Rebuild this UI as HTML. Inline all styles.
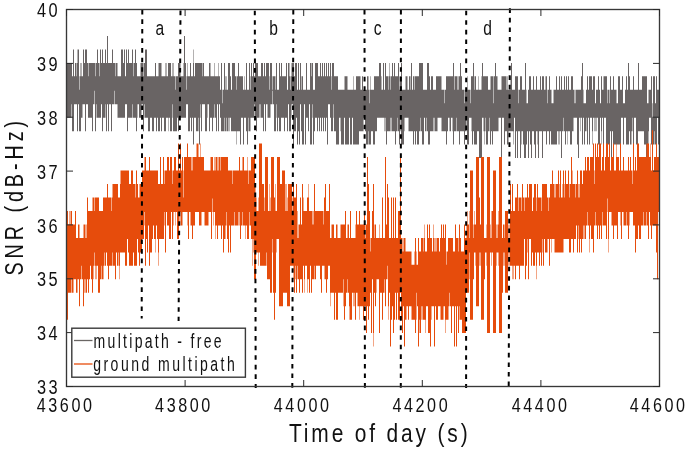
<!DOCTYPE html>
<html><head><meta charset="utf-8"><style>html,body{margin:0;padding:0;background:#fff;overflow:hidden}svg{display:block;will-change:transform}</style></head>
<body><svg width="685" height="455" viewBox="0 0 685 455">
<rect width="685" height="455" fill="#fff"/>
<path d="M66 62.9H71.5V117.7H66ZM71.5 62.9H72V104.2H71.5ZM72 76.3H73V131.2H72ZM73 49.4H74V131.2H73ZM74 76.3H75V104.2H74ZM75 62.9H76.5V104.2H75ZM76.5 76.3H77V104.2H76.5ZM77 49.4H77.5V131.2H77ZM77.5 62.9H78V131.2H77.5ZM78 49.4H79V104.2H78ZM79 76.3H79.5V131.2H79ZM79.5 89.8H80V131.2H79.5ZM80 76.3H80.5V131.2H80ZM80.5 62.9H81V131.2H80.5ZM81 62.9H81.5V117.7H81ZM81.5 76.3H82.5V117.7H81.5ZM82.5 76.3H83V104.2H82.5ZM83 49.4H84V104.2H83ZM84 62.9H85V104.2H84ZM85 49.4H86V131.2H85ZM86 49.4H87V104.2H86ZM87 62.9H88V104.2H87ZM88 76.3H88.5V117.7H88ZM88.5 62.9H92V117.7H88.5ZM92 62.9H93V131.2H92ZM93 62.9H94.5V104.2H93ZM94.5 62.9H95V90.8H94.5ZM95 62.9H95.5V131.2H95ZM95.5 76.3H96V131.2H95.5ZM96 62.9H96.5V104.2H96ZM96.5 62.9H97V117.7H96.5ZM97 49.4H98V117.7H97ZM98 62.9H99.5V117.7H98ZM99.5 76.3H100V117.7H99.5ZM100 49.4H101V117.7H100ZM101 62.9H102V104.2H101ZM102 49.4H103V131.2H102ZM103 62.9H105V117.7H103ZM105 49.4H105.5V117.7H105ZM105.5 49.4H106V104.2H105.5ZM106 62.9H107V131.2H106ZM107 35.9H108V104.2H107ZM108 62.9H109V131.2H108ZM109 62.9H111V104.2H109ZM111 62.9H112V131.2H111ZM112 49.4H113V104.2H112ZM113 62.9H114V104.2H113ZM114 62.9H114.5V90.8H114ZM114.5 62.9H115V104.2H114.5ZM115 76.3H115.5V104.2H115ZM115.5 62.9H117V104.2H115.5ZM117 62.9H117.5V117.7H117ZM117.5 76.3H118V104.2H117.5ZM118 76.3H121V117.7H118ZM121 49.4H123V117.7H121ZM123 62.9H124V117.7H123ZM124 49.4H125V117.7H124ZM125 76.3H126V104.2H125ZM126 49.4H127V104.2H126ZM127 62.9H128V131.2H127ZM128 49.4H129V117.7H128ZM129 62.9H132V117.7H129ZM132 49.4H132.5V104.2H132ZM132.5 49.4H133V117.7H132.5ZM133 76.3H133.5V117.7H133ZM133.5 62.9H135V117.7H133.5ZM135 49.4H136V117.7H135ZM136 62.9H137V131.2H136ZM137 76.3H137.5V117.7H137ZM137.5 76.3H139V104.2H137.5ZM139 76.3H140.5V117.7H139ZM140.5 62.9H141.5V117.7H140.5ZM141.5 62.9H143V104.2H141.5ZM143 76.3H143.5V131.2H143ZM143.5 62.9H144V131.2H143.5ZM144 62.9H144.5V104.2H144ZM144.5 62.9H145V117.7H144.5ZM145 49.4H147V117.7H145ZM147 76.3H148V117.7H147ZM148 76.3H150V131.2H148ZM150 76.3H152V117.7H150ZM152 76.3H154V131.2H152ZM154 76.3H155V117.7H154ZM155 62.9H156V117.7H155ZM156 76.3H157V131.2H156ZM157 76.3H158V117.7H157ZM158 76.3H158.5V131.2H158ZM158.5 62.9H160V131.2H158.5ZM160 62.9H161V117.7H160ZM161 62.9H161.5V131.2H161ZM161.5 76.3H162V131.2H161.5ZM162 76.3H164V117.7H162ZM164 76.3H165.5V131.2H164ZM165.5 62.9H166V131.2H165.5ZM166 62.9H166.5V117.7H166ZM166.5 76.3H168V117.7H166.5ZM168 62.9H168.5V131.2H168ZM168.5 62.9H170V117.7H168.5ZM170 62.9H171V131.2H170ZM171 76.3H172V131.2H171ZM172 76.3H172.5V104.2H172ZM172.5 62.9H173V117.7H172.5ZM173 62.9H173.5V131.2H173ZM173.5 76.3H175V131.2H173.5ZM175 89.8H175.5V131.2H175ZM175.5 76.3H177V131.2H175.5ZM177 76.3H178V117.7H177ZM178 62.9H179V131.2H178ZM179 62.9H180.5V117.7H179ZM180.5 76.3H183.5V117.7H180.5ZM183.5 62.9H184V117.7H183.5ZM184 35.9H185V117.7H184ZM185 62.9H186V117.7H185ZM186 89.8H186.5V104.2H186ZM186.5 76.3H187V104.2H186.5ZM187 62.9H187.5V104.2H187ZM187.5 76.3H188V104.2H187.5ZM188 76.3H190V131.2H188ZM190 62.9H191V117.7H190ZM191 76.3H192V131.2H191ZM192 76.3H193V117.7H192ZM193 62.9H193.5V144.6H193ZM193.5 49.4H194V144.6H193.5ZM194 76.3H195V117.7H194ZM195 62.9H196V117.7H195ZM196 62.9H198V131.2H196ZM198 62.9H198.5V117.7H198ZM198.5 62.9H199V131.2H198.5ZM199 62.9H200V144.6H199ZM200 62.9H200.5V117.7H200ZM200.5 62.9H201V104.2H200.5ZM201 62.9H202V131.2H201ZM202 76.3H202.5V104.2H202ZM202.5 62.9H204V104.2H202.5ZM204 76.3H205V104.2H204ZM205 76.3H207V131.2H205ZM207 76.3H207.5V117.7H207ZM207.5 76.3H209V104.2H207.5ZM209 62.9H210V131.2H209ZM210 62.9H210.5V117.7H210ZM210.5 76.3H212V117.7H210.5ZM212 76.3H213V131.2H212ZM213 76.3H214V117.7H213ZM214 62.9H214.5V117.7H214ZM214.5 76.3H215V104.2H214.5ZM215 76.3H216V117.7H215ZM216 76.3H217V131.2H216ZM217 76.3H218V104.2H217ZM218 76.3H218.5V131.2H218ZM218.5 62.9H219V131.2H218.5ZM219 76.3H220V104.2H219ZM220 89.8H221V117.7H220ZM221 62.9H222V131.2H221ZM222 103.2H222.5V131.2H222ZM222.5 89.8H224V131.2H222.5ZM224 62.9H224.5V131.2H224ZM224.5 62.9H225V117.7H224.5ZM225 89.8H225.5V131.2H225ZM225.5 76.3H226V131.2H225.5ZM226 76.3H226.5V117.7H226ZM226.5 89.8H228V131.2H226.5ZM228 62.9H228.5V131.2H228ZM228.5 62.9H229.5V117.7H228.5ZM229.5 62.9H230V131.2H229.5ZM230 76.3H231V117.7H230ZM231 89.8H232V131.2H231ZM232 62.9H235V131.2H232ZM235 76.3H236V131.2H235ZM236 89.8H236.5V131.2H236ZM236.5 76.3H237V144.6H236.5ZM237 76.3H238V131.2H237ZM238 62.9H239V131.2H238ZM239 76.3H240V131.2H239ZM240 76.3H241V144.6H240ZM241 76.3H243V117.7H241ZM243 89.8H244V144.6H243ZM244 89.8H244.5V117.7H244ZM244.5 76.3H245V117.7H244.5ZM245 89.8H246V117.7H245ZM246 62.9H247V131.2H246ZM247 89.8H248V144.6H247ZM248 89.8H248.5V131.2H248ZM248.5 89.8H249V117.7H248.5ZM249 62.9H250V131.2H249ZM250 89.8H250.5V131.2H250ZM250.5 76.3H251V117.7H250.5ZM251 62.9H252V117.7H251ZM252 76.3H253V117.7H252ZM253 62.9H254V117.7H253ZM254 76.3H254.5V117.7H254ZM254.5 76.3H255V104.2H254.5ZM255 62.9H256V117.7H255ZM256 62.9H257V131.2H256ZM257 62.9H258V117.7H257ZM258 76.3H259.5V117.7H258ZM259.5 76.3H260V104.2H259.5ZM260 76.3H260.5V117.7H260ZM260.5 76.3H261V104.2H260.5ZM261 62.9H263V117.7H261ZM263 76.3H264V131.2H263ZM264 62.9H265V104.2H264ZM265 76.3H266V131.2H265ZM266 62.9H267.5V104.2H266ZM267.5 62.9H269V117.7H267.5ZM269 76.3H269.5V117.7H269ZM269.5 89.8H270V117.7H269.5ZM270 62.9H270.5V117.7H270ZM270.5 62.9H272V104.2H270.5ZM272 89.8H272.5V104.2H272ZM272.5 76.3H273V90.8H272.5ZM273 76.3H274V104.2H273ZM274 76.3H275.5V131.2H274ZM275.5 89.8H276V131.2H275.5ZM276 62.9H276.5V117.7H276ZM276.5 62.9H277V104.2H276.5ZM277 89.8H278V131.2H277ZM278 89.8H279V117.7H278ZM279 62.9H280V131.2H279ZM280 76.3H281V131.2H280ZM281 62.9H282V117.7H281ZM282 76.3H284V117.7H282ZM284 76.3H285V131.2H284ZM285 76.3H286V117.7H285ZM286 62.9H287V117.7H286ZM287 89.8H288V131.2H287ZM288 62.9H289V104.2H288ZM289 62.9H289.5V131.2H289ZM289.5 76.3H290.5V131.2H289.5ZM290.5 89.8H291V131.2H290.5ZM291 76.3H291.5V104.2H291ZM291.5 62.9H292V117.7H291.5ZM292 62.9H293V104.2H292ZM293 62.9H294V144.6H293ZM294 76.3H295V131.2H294ZM295 62.9H296V131.2H295ZM296 62.9H297V117.7H296ZM297 89.8H298V144.6H297ZM298 62.9H299V131.2H298ZM299 89.8H300V144.6H299ZM300 62.9H301V104.2H300ZM301 76.3H301.5V131.2H301ZM301.5 89.8H302V131.2H301.5ZM302 76.3H303V144.6H302ZM303 89.8H304V144.6H303ZM304 89.8H305V104.2H304ZM305 89.8H306V144.6H305ZM306 62.9H307V117.7H306ZM307 89.8H308V117.7H307ZM308 89.8H309V131.2H308ZM309 89.8H310V104.2H309ZM310 62.9H311.5V144.6H310ZM311.5 76.3H312V144.6H311.5ZM312 62.9H312.5V104.2H312ZM312.5 62.9H313V117.7H312.5ZM313 89.8H314V144.6H313ZM314 89.8H315V131.2H314ZM315 62.9H317V117.7H315ZM317 62.9H318V131.2H317ZM318 76.3H319V117.7H318ZM319 76.3H320V131.2H319ZM320 62.9H321V117.7H320ZM321 76.3H322V131.2H321ZM322 62.9H323V117.7H322ZM323 76.3H324V131.2H323ZM324 62.9H325V117.7H324ZM325 76.3H326V131.2H325ZM326 62.9H327V117.7H326ZM327 76.3H328V144.6H327ZM328 62.9H329V104.2H328ZM329 76.3H330V104.2H329ZM330 62.9H331V117.7H330ZM331 89.8H331.5V131.2H331ZM331.5 76.3H332V131.2H331.5ZM332 62.9H333V131.2H332ZM333 62.9H333.5V104.2H333ZM333.5 62.9H334V117.7H333.5ZM334 76.3H336V131.2H334ZM336 76.3H338V144.6H336ZM338 89.8H339V144.6H338ZM339 89.8H340.5V117.7H339ZM340.5 89.8H341V131.2H340.5ZM341 89.8H344V144.6H341ZM344 89.8H344.5V117.7H344ZM344.5 76.3H345V117.7H344.5ZM345 76.3H347.5V144.6H345ZM347.5 89.8H349V144.6H347.5ZM349 89.8H350V117.7H349ZM350 89.8H352V144.6H350ZM352 89.8H353V117.7H352ZM353 89.8H353.5V144.6H353ZM353.5 76.3H354V144.6H353.5ZM354 89.8H356V144.6H354ZM356 76.3H359V144.6H356ZM359 76.3H360.5V131.2H359ZM360.5 89.8H362V131.2H360.5ZM362 76.3H363V131.2H362ZM363 89.8H363.5V131.2H363ZM363.5 89.8H365V117.7H363.5ZM365 89.8H366V131.2H365ZM366 89.8H367V144.6H366ZM367 76.3H368.5V144.6H367ZM368.5 89.8H369V131.2H368.5ZM369 103.2H369.5V144.6H369ZM369.5 89.8H370V144.6H369.5ZM370 76.3H370.5V144.6H370ZM370.5 89.8H371V144.6H370.5ZM371 89.8H373V131.2H371ZM373 89.8H374V144.6H373ZM374 76.3H375V144.6H374ZM375 76.3H377V131.2H375ZM377 76.3H379V117.7H377ZM379 62.9H381V117.7H379ZM381 76.3H381.5V117.7H381ZM381.5 89.8H383V117.7H381.5ZM383 62.9H384V117.7H383ZM384 89.8H384.5V117.7H384ZM384.5 89.8H385V131.2H384.5ZM385 62.9H385.5V117.7H385ZM385.5 62.9H386V131.2H385.5ZM386 76.3H387V144.6H386ZM387 76.3H388.5V131.2H387ZM388.5 89.8H389V131.2H388.5ZM389 76.3H389.5V131.2H389ZM389.5 62.9H390V131.2H389.5ZM390 89.8H390.5V131.2H390ZM390.5 76.3H391.5V117.7H390.5ZM391.5 76.3H392V131.2H391.5ZM392 62.9H393V131.2H392ZM393 76.3H394V131.2H393ZM394 62.9H395V131.2H394ZM395 76.3H396V144.6H395ZM396 76.3H397.5V131.2H396ZM397.5 76.3H398V117.7H397.5ZM398 62.9H399V131.2H398ZM399 76.3H399.5V144.6H399ZM399.5 89.8H400V144.6H399.5ZM400 76.3H400.5V117.7H400ZM400.5 76.3H401V131.2H400.5ZM401 62.9H402V144.6H401ZM402 89.8H404V144.6H402ZM404 89.8H404.5V131.2H404ZM404.5 89.8H405.5V117.7H404.5ZM405.5 76.3H407.5V117.7H405.5ZM407.5 89.8H408.5V117.7H407.5ZM408.5 89.8H409V131.2H408.5ZM409 76.3H410.5V131.2H409ZM410.5 89.8H411V131.2H410.5ZM411 62.9H412V131.2H411ZM412 89.8H413V131.2H412ZM413 76.3H414V144.6H413ZM414 89.8H414.5V131.2H414ZM414.5 76.3H415V131.2H414.5ZM415 76.3H416V144.6H415ZM416 76.3H417V131.2H416ZM417 76.3H419V144.6H417ZM419 62.9H420V131.2H419ZM420 62.9H420.5V117.7H420ZM420.5 62.9H422V131.2H420.5ZM422 62.9H423V144.6H422ZM423 89.8H424V144.6H423ZM424 89.8H425V117.7H424ZM425 89.8H426.5V131.2H425ZM426.5 89.8H427V117.7H426.5ZM427 62.9H428V131.2H427ZM428 62.9H429V144.6H428ZM429 76.3H430V144.6H429ZM430 89.8H431V131.2H430ZM431 76.3H433V131.2H431ZM433 89.8H433.5V131.2H433ZM433.5 89.8H434.5V117.7H433.5ZM434.5 89.8H436V131.2H434.5ZM436 76.3H437.5V131.2H436ZM437.5 76.3H441V117.7H437.5ZM441 76.3H441.5V131.2H441ZM441.5 89.8H442V117.7H441.5ZM442 89.8H444.5V131.2H442ZM444.5 103.2H445V131.2H444.5ZM445 89.8H446V131.2H445ZM446 76.3H447V144.6H446ZM447 76.3H448V131.2H447ZM448 76.3H449.5V117.7H448ZM449.5 76.3H451V131.2H449.5ZM451 76.3H452.5V117.7H451ZM452.5 76.3H453V131.2H452.5ZM453 62.9H454V144.6H453ZM454 76.3H454.5V131.2H454ZM454.5 89.8H455V131.2H454.5ZM455 76.3H456V131.2H455ZM456 76.3H456.5V117.7H456ZM456.5 76.3H457.5V131.2H456.5ZM457.5 89.8H458.5V131.2H457.5ZM458.5 76.3H459V131.2H458.5ZM459 76.3H460V144.6H459ZM460 62.9H461V131.2H460ZM461 76.3H462V131.2H461ZM462 89.8H464V131.2H462ZM464 103.2H464.5V144.6H464ZM464.5 89.8H465V144.6H464.5ZM465 89.8H466.5V131.2H465ZM466.5 89.8H467V117.7H466.5ZM467 89.8H467.5V144.6H467ZM467.5 76.3H468V144.6H467.5ZM468 89.8H469V144.6H468ZM469 89.8H470.5V117.7H469ZM470.5 103.2H471V117.7H470.5ZM471 76.3H471.5V131.2H471ZM471.5 76.3H472V117.7H471.5ZM472 76.3H473V144.6H472ZM473 62.9H474V131.2H473ZM474 89.8H474.5V144.6H474ZM474.5 76.3H476V144.6H474.5ZM476 89.8H477V144.6H476ZM477 89.8H478.5V131.2H477ZM478.5 76.3H479V131.2H478.5ZM479 89.8H481.5V158.1H479ZM481.5 76.3H482V158.1H481.5ZM482 62.9H483V117.7H482ZM483 76.3H483.5V131.2H483ZM483.5 76.3H484V117.7H483.5ZM484 76.3H484.5V131.2H484ZM484.5 76.3H485V144.6H484.5ZM485 76.3H485.5V117.7H485ZM485.5 76.3H486V131.2H485.5ZM486 76.3H488V144.6H486ZM488 89.8H489.5V131.2H488ZM489.5 89.8H490V117.7H489.5ZM490 89.8H490.5V144.6H490ZM490.5 76.3H491V144.6H490.5ZM491 76.3H492V131.2H491ZM492 76.3H493V144.6H492ZM493 103.2H493.5V131.2H493ZM493.5 76.3H495V131.2H493.5ZM495 62.9H496V131.2H495ZM496 76.3H497.5V131.2H496ZM497.5 89.8H498.5V131.2H497.5ZM498.5 89.8H501V117.7H498.5ZM501 89.8H501.5V158.1H501ZM501.5 76.3H502V158.1H501.5ZM502 76.3H504V117.7H502ZM504 76.3H505V144.6H504ZM505 76.3H506V131.2H505ZM506 89.8H506.5V131.2H506ZM506.5 76.3H507V131.2H506.5ZM507 76.3H507.5V144.6H507ZM507.5 89.8H508V144.6H507.5ZM508 89.8H508.5V131.2H508ZM508.5 89.8H509V144.6H508.5ZM509 89.8H510V131.2H509ZM510 76.3H510.5V131.2H510ZM510.5 89.8H511V131.2H510.5ZM511 62.9H512V131.2H511ZM512 89.8H513.5V131.2H512ZM513.5 89.8H514V144.6H513.5ZM514 89.8H515V117.7H514ZM515 76.3H516V158.1H515ZM516 76.3H517V131.2H516ZM517 76.3H518V158.1H517ZM518 103.2H518.5V131.2H518ZM518.5 89.8H520V131.2H518.5ZM520 76.3H521V158.1H520ZM521 76.3H521.5V131.2H521ZM521.5 76.3H522V144.6H521.5ZM522 89.8H523V131.2H522ZM523 89.8H524V144.6H523ZM524 89.8H525V158.1H524ZM525 62.9H526V158.1H525ZM526 89.8H526.5V144.6H526ZM526.5 103.2H527V144.6H526.5ZM527 103.2H528V131.2H527ZM528 89.8H529V158.1H528ZM529 76.3H530V131.2H529ZM530 76.3H531V144.6H530ZM531 89.8H532V158.1H531ZM532 89.8H533V131.2H532ZM533 76.3H534V131.2H533ZM534 89.8H535V144.6H534ZM535 89.8H536V158.1H535ZM536 76.3H537V131.2H536ZM537 89.8H537.5V144.6H537ZM537.5 89.8H538V131.2H537.5ZM538 89.8H539V158.1H538ZM539 89.8H540V131.2H539ZM540 76.3H541V131.2H540ZM541 89.8H542V131.2H541ZM542 76.3H543V158.1H542ZM543 76.3H544V131.2H543ZM544 89.8H545.5V131.2H544ZM545.5 76.3H546V131.2H545.5ZM546 76.3H547V144.6H546ZM547 103.2H547.5V131.2H547ZM547.5 89.8H549V131.2H547.5ZM549 76.3H550V144.6H549ZM550 89.8H551V131.2H550ZM551 89.8H551.5V144.6H551ZM551.5 103.2H553.5V144.6H551.5ZM553.5 89.8H556V144.6H553.5ZM556 76.3H557V144.6H556ZM557 89.8H558.5V131.2H557ZM558.5 89.8H559V144.6H558.5ZM559 76.3H559.5V144.6H559ZM559.5 76.3H560V131.2H559.5ZM560 89.8H561V131.2H560ZM561 76.3H562V158.1H561ZM562 89.8H563.5V131.2H562ZM563.5 89.8H564V117.7H563.5ZM564 76.3H565V131.2H564ZM565 89.8H566V144.6H565ZM566 76.3H567V131.2H566ZM567 89.8H567.5V144.6H567ZM567.5 89.8H568V131.2H567.5ZM568 76.3H569V131.2H568ZM569 89.8H570V131.2H569ZM570 89.8H571V144.6H570ZM571 76.3H572V144.6H571ZM572 76.3H573V131.2H572ZM573 89.8H573.5V131.2H573ZM573.5 89.8H574.5V117.7H573.5ZM574.5 103.2H575.5V117.7H574.5ZM575.5 89.8H577V117.7H575.5ZM577 89.8H578V144.6H577ZM578 89.8H579V158.1H578ZM579 89.8H580.5V117.7H579ZM580.5 89.8H581V131.2H580.5ZM581 76.3H582V117.7H581ZM582 62.9H583V144.6H582ZM583 89.8H583.5V117.7H583ZM583.5 103.2H584V117.7H583.5ZM584 103.2H585V144.6H584ZM585 103.2H586V131.2H585ZM586 89.8H586.5V131.2H586ZM586.5 89.8H587V117.7H586.5ZM587 76.3H588V144.6H587ZM588 89.8H589V117.7H588ZM589 76.3H590V144.6H589ZM590 76.3H592V117.7H590ZM592 89.8H592.5V144.6H592ZM592.5 89.8H593V131.2H592.5ZM593 76.3H594.5V117.7H593ZM594.5 76.3H595V131.2H594.5ZM595 103.2H595.5V131.2H595ZM595.5 103.2H596V117.7H595.5ZM596 89.8H596.5V131.2H596ZM596.5 89.8H598V117.7H596.5ZM598 76.3H599V144.6H598ZM599 89.8H600V144.6H599ZM600 103.2H601V117.7H600ZM601 76.3H601.5V144.6H601ZM601.5 76.3H602V131.2H601.5ZM602 89.8H603V117.7H602ZM603 76.3H603.5V144.6H603ZM603.5 89.8H604V144.6H603.5ZM604 76.3H606V117.7H604ZM606 76.3H607V144.6H606ZM607 103.2H607.5V144.6H607ZM607.5 89.8H609V144.6H607.5ZM609 103.2H609.5V144.6H609ZM609.5 89.8H610V144.6H609.5ZM610 76.3H611V131.2H610ZM611 89.8H612V158.1H611ZM612 89.8H613V131.2H612ZM613 76.3H614V144.6H613ZM614 89.8H616.5V144.6H614ZM616.5 103.2H618V144.6H616.5ZM618 76.3H620V144.6H618ZM620 89.8H621V144.6H620ZM621 89.8H622V117.7H621ZM622 76.3H623V117.7H622ZM623 103.2H624V144.6H623ZM624 103.2H625V117.7H624ZM625 89.8H626V117.7H625ZM626 76.3H627V144.6H626ZM627 89.8H628V144.6H627ZM628 62.9H629V144.6H628ZM629 76.3H630V131.2H629ZM630 89.8H631.5V144.6H630ZM631.5 89.8H632.5V131.2H631.5ZM632.5 89.8H633V117.7H632.5ZM633 76.3H634V144.6H633ZM634 89.8H636V117.7H634ZM636 89.8H638V144.6H636ZM638 62.9H639V131.2H638ZM639 89.8H642V131.2H639ZM642 76.3H644V131.2H642ZM644 76.3H646V144.6H644ZM646 76.3H647V158.1H646ZM647 103.2H648.5V144.6H647ZM648.5 89.8H649V131.2H648.5ZM649 89.8H651V117.7H649ZM651 76.3H652V144.6H651ZM652 103.2H652.5V144.6H652ZM652.5 116.7H653V144.6H652.5ZM653 76.3H654.5V144.6H653ZM654.5 76.3H655V131.2H654.5ZM655 103.2H656V144.6H655ZM656 76.3H657V144.6H656ZM657 89.8H658V117.7H657ZM658 89.8H659V144.6H658Z" fill="#696464"/>
<path d="M66 211.0H67V279.3H66ZM67 211.0H68V319.7H67ZM68 224.4H69.5V292.8H68ZM69.5 211.0H70.5V292.8H69.5ZM70.5 224.4H71V292.8H70.5ZM71 211.0H71.5V279.3H71ZM71.5 211.0H72V292.8H71.5ZM72 224.4H73.5V292.8H72ZM73.5 224.4H75V279.3H73.5ZM75 211.0H76V279.3H75ZM76 237.9H77.5V292.8H76ZM77.5 237.9H78V279.3H77.5ZM78 224.4H79V279.3H78ZM79 224.4H79.5V306.2H79ZM79.5 237.9H80V306.2H79.5ZM80 237.9H81V279.3H80ZM81 237.9H81.5V265.8H81ZM81.5 237.9H83V279.3H81.5ZM83 237.9H83.5V306.2H83ZM83.5 224.4H84V306.2H83.5ZM84 224.4H84.5V279.3H84ZM84.5 224.4H85.5V292.8H84.5ZM85.5 237.9H86V279.3H85.5ZM86 224.4H86.5V292.8H86ZM86.5 237.9H87V292.8H86.5ZM87 197.5H88V279.3H87ZM88 211.0H89V292.8H88ZM89 211.0H90V279.3H89ZM90 211.0H91V265.8H90ZM91 211.0H92V279.3H91ZM92 211.0H92.5V292.8H92ZM92.5 197.5H93V292.8H92.5ZM93 197.5H93.5V265.8H93ZM93.5 197.5H94V279.3H93.5ZM94 211.0H94.5V265.8H94ZM94.5 197.5H95V252.4H94.5ZM95 197.5H95.5V265.8H95ZM95.5 197.5H96.5V279.3H95.5ZM96.5 197.5H98V265.8H96.5ZM98 197.5H99V292.8H98ZM99 211.0H100V292.8H99ZM100 211.0H101.5V279.3H100ZM101.5 211.0H102V265.8H101.5ZM102 211.0H103V279.3H102ZM103 197.5H103.5V265.8H103ZM103.5 197.5H104V279.3H103.5ZM104 197.5H104.5V252.4H104ZM104.5 197.5H106V265.8H104.5ZM106 197.5H107V252.4H106ZM107 184.0H108V265.8H107ZM108 197.5H109V279.3H108ZM109 197.5H111V265.8H109ZM111 211.0H111.5V265.8H111ZM111.5 197.5H112V265.8H111.5ZM112 197.5H112.5V252.4H112ZM112.5 184.0H115V265.8H112.5ZM115 184.0H116V279.3H115ZM116 184.0H117V252.4H116ZM117 184.0H118V265.8H117ZM118 197.5H118.5V252.4H118ZM118.5 197.5H119V265.8H118.5ZM119 197.5H119.5V279.3H119ZM119.5 197.5H120V265.8H119.5ZM120 170.6H120.5V252.4H120ZM120.5 184.0H121V252.4H120.5ZM121 170.6H125V252.4H121ZM125 170.6H127V265.8H125ZM127 170.6H128V238.9H127ZM128 170.6H129V252.4H128ZM129 184.0H131V265.8H129ZM131 170.6H133V265.8H131ZM133 184.0H134V252.4H133ZM134 184.0H135.5V265.8H134ZM135.5 197.5H136V265.8H135.5ZM136 170.6H137V265.8H136ZM137 184.0H138V238.9H137ZM138 197.5H139V252.4H138ZM139 197.5H139.5V265.8H139ZM139.5 184.0H140V265.8H139.5ZM140 184.0H142V252.4H140ZM142 170.6H144V238.9H142ZM144 157.1H144.5V212.0H144ZM144.5 170.6H145V225.4H144.5ZM145 157.1H146V265.8H145ZM146 170.6H147V238.9H146ZM147 170.6H148V252.4H147ZM148 170.6H149V225.4H148ZM149 157.1H150V265.8H149ZM150 170.6H152V252.4H150ZM152 170.6H153V238.9H152ZM153 170.6H154V225.4H153ZM154 170.6H155.5V238.9H154ZM155.5 170.6H156V252.4H155.5ZM156 170.6H157V225.4H156ZM157 170.6H158V238.9H157ZM158 184.0H158.5V265.8H158ZM158.5 184.0H159V252.4H158.5ZM159 184.0H160V238.9H159ZM160 157.1H161V238.9H160ZM161 184.0H163V238.9H161ZM163 157.1H164V238.9H163ZM164 184.0H164.5V225.4H164ZM164.5 170.6H165V212.0H164.5ZM165 170.6H166V252.4H165ZM166 170.6H167V212.0H166ZM167 157.1H169V225.4H167ZM169 170.6H170V238.9H169ZM170 157.1H171V238.9H170ZM171 157.1H172V212.0H171ZM172 184.0H172.5V238.9H172ZM172.5 170.6H173V238.9H172.5ZM173 170.6H173.5V212.0H173ZM173.5 170.6H174V225.4H173.5ZM174 157.1H175.5V212.0H174ZM175.5 157.1H176V225.4H175.5ZM176 170.6H177V212.0H176ZM177 170.6H178V238.9H177ZM178 143.6H179V238.9H178ZM179 170.6H179.5V225.4H179ZM179.5 170.6H180V212.0H179.5ZM180 143.6H180.5V212.0H180ZM180.5 143.6H181V225.4H180.5ZM181 170.6H182V225.4H181ZM182 157.1H182.5V225.4H182ZM182.5 157.1H183V212.0H182.5ZM183 197.5H183.5V212.0H183ZM183.5 170.6H184V212.0H183.5ZM184 157.1H187V212.0H184ZM187 143.6H187.5V212.0H187ZM187.5 143.6H188V225.4H187.5ZM188 157.1H189V238.9H188ZM189 157.1H190.5V212.0H189ZM190.5 157.1H191V225.4H190.5ZM191 170.6H191.5V225.4H191ZM191.5 157.1H192V225.4H191.5ZM192 157.1H192.5V238.9H192ZM192.5 170.6H193V238.9H192.5ZM193 157.1H195V225.4H193ZM195 157.1H196.5V212.0H195ZM196.5 143.6H198.5V212.0H196.5ZM198.5 157.1H199V212.0H198.5ZM199 157.1H200.5V225.4H199ZM200.5 143.6H201V225.4H200.5ZM201 157.1H201.5V225.4H201ZM201.5 157.1H204V212.0H201.5ZM204 170.6H204.5V212.0H204ZM204.5 170.6H208.5V225.4H204.5ZM208.5 170.6H210.5V212.0H208.5ZM210.5 157.1H211V212.0H210.5ZM211 157.1H212V238.9H211ZM212 157.1H212.5V198.5H212ZM212.5 157.1H213V212.0H212.5ZM213 170.6H213.5V212.0H213ZM213.5 170.6H214V225.4H213.5ZM214 170.6H214.5V212.0H214ZM214.5 157.1H215V212.0H214.5ZM215 157.1H215.5V225.4H215ZM215.5 170.6H216V238.9H215.5ZM216 157.1H217V225.4H216ZM217 157.1H217.5V238.9H217ZM217.5 170.6H218V238.9H217.5ZM218 170.6H218.5V225.4H218ZM218.5 157.1H220.5V225.4H218.5ZM220.5 170.6H221V225.4H220.5ZM221 157.1H222V238.9H221ZM222 157.1H223V225.4H222ZM223 157.1H224V252.4H223ZM224 157.1H225V238.9H224ZM225 157.1H225.5V225.4H225ZM225.5 157.1H226V238.9H225.5ZM226 157.1H226.5V225.4H226ZM226.5 157.1H227V212.0H226.5ZM227 157.1H228V238.9H227ZM228 170.6H229V252.4H228ZM229 170.6H230V225.4H229ZM230 170.6H231V252.4H230ZM231 170.6H232V225.4H231ZM232 184.0H232.5V225.4H232ZM232.5 170.6H234V225.4H232.5ZM234 170.6H234.5V212.0H234ZM234.5 170.6H238V225.4H234.5ZM238 170.6H238.5V212.0H238ZM238.5 170.6H239V225.4H238.5ZM239 157.1H239.5V212.0H239ZM239.5 157.1H240V225.4H239.5ZM240 170.6H241V238.9H240ZM241 170.6H242V225.4H241ZM242 170.6H242.5V212.0H242ZM242.5 157.1H244V225.4H242.5ZM244 170.6H245.5V225.4H244ZM245.5 170.6H246V238.9H245.5ZM246 170.6H247V225.4H246ZM247 157.1H247.5V238.9H247ZM247.5 170.6H248V238.9H247.5ZM248 184.0H248.5V238.9H248ZM248.5 170.6H249V238.9H248.5ZM249 170.6H249.5V225.4H249ZM249.5 170.6H250V212.0H249.5ZM250 170.6H251V225.4H250ZM251 157.1H252.5V238.9H251ZM252.5 157.1H253V265.8H252.5ZM253 157.1H253.5V238.9H253ZM253.5 157.1H254V252.4H253.5ZM254 157.1H255V279.3H254ZM255 184.0H255.5V279.3H255ZM255.5 197.5H256V279.3H255.5ZM256 211.0H256.5V252.4H256ZM256.5 197.5H257V252.4H256.5ZM257 211.0H258.5V252.4H257ZM258.5 197.5H259V265.8H258.5ZM259 143.6H260V252.4H259ZM260 143.6H262V265.8H260ZM262 184.0H264V265.8H262ZM264 197.5H264.5V265.8H264ZM264.5 211.0H265V265.8H264.5ZM265 157.1H266V265.8H265ZM266 157.1H266.5V252.4H266ZM266.5 157.1H267V265.8H266.5ZM267 157.1H268V279.3H267ZM268 211.0H269.5V279.3H268ZM269.5 184.0H270V279.3H269.5ZM270 211.0H270.5V292.8H270ZM270.5 197.5H271V292.8H270.5ZM271 157.1H272V292.8H271ZM272 157.1H272.5V238.9H272ZM272.5 157.1H273V252.4H272.5ZM273 157.1H274V292.8H273ZM274 197.5H275V319.7H274ZM275 184.0H275.5V292.8H275ZM275.5 211.0H276V292.8H275.5ZM276 211.0H276.5V238.9H276ZM276.5 211.0H277V252.4H276.5ZM277 157.1H279V238.9H277ZM279 157.1H280V306.2H279ZM280 184.0H282V306.2H280ZM282 170.6H283V306.2H282ZM283 170.6H285V292.8H283ZM285 184.0H285.5V292.8H285ZM285.5 211.0H286.5V292.8H285.5ZM286.5 184.0H287V292.8H286.5ZM287 197.5H287.5V306.2H287ZM287.5 211.0H288V306.2H287.5ZM288 184.0H290V306.2H288ZM290 184.0H292V265.8H290ZM292 211.0H292.5V265.8H292ZM292.5 197.5H293V265.8H292.5ZM293 184.0H293.5V265.8H293ZM293.5 184.0H294V279.3H293.5ZM294 197.5H295V292.8H294ZM295 197.5H295.5V265.8H295ZM295.5 197.5H296V279.3H295.5ZM296 184.0H297V292.8H296ZM297 211.0H297.5V279.3H297ZM297.5 237.9H298V265.8H297.5ZM298 224.4H298.5V279.3H298ZM298.5 237.9H299V279.3H298.5ZM299 224.4H300V292.8H299ZM300 197.5H301V279.3H300ZM301 224.4H302V279.3H301ZM302 184.0H303V292.8H302ZM303 211.0H303.5V265.8H303ZM303.5 197.5H304V265.8H303.5ZM304 211.0H304.5V292.8H304ZM304.5 211.0H305V279.3H304.5ZM305 211.0H307V265.8H305ZM307 197.5H307.5V279.3H307ZM307.5 197.5H308V292.8H307.5ZM308 197.5H308.5V279.3H308ZM308.5 184.0H309V279.3H308.5ZM309 211.0H310V292.8H309ZM310 211.0H311V265.8H310ZM311 211.0H312V292.8H311ZM312 211.0H312.5V279.3H312ZM312.5 224.4H313V279.3H312.5ZM313 211.0H313.5V279.3H313ZM313.5 224.4H314V279.3H313.5ZM314 184.0H314.5V265.8H314ZM314.5 184.0H315V279.3H314.5ZM315 211.0H316V279.3H315ZM316 211.0H320V265.8H316ZM320 211.0H321V279.3H320ZM321 211.0H322V292.8H321ZM322 211.0H323.5V265.8H322ZM323.5 224.4H324V265.8H323.5ZM324 197.5H324.5V265.8H324ZM324.5 197.5H325V279.3H324.5ZM325 184.0H326V279.3H325ZM326 211.0H327V292.8H326ZM327 211.0H328V279.3H327ZM328 211.0H329V265.8H328ZM329 184.0H330V265.8H329ZM330 237.9H330.5V306.2H330ZM330.5 237.9H331.5V292.8H330.5ZM331.5 224.4H334V292.8H331.5ZM334 237.9H335V319.7H334ZM335 237.9H336V292.8H335ZM336 224.4H337.5V319.7H336ZM337.5 237.9H338V319.7H337.5ZM338 237.9H340.5V292.8H338ZM340.5 224.4H343V292.8H340.5ZM343 224.4H343.5V279.3H343ZM343.5 224.4H344V306.2H343.5ZM344 224.4H345V319.7H344ZM345 211.0H346V306.2H345ZM346 237.9H347V292.8H346ZM347 237.9H347.5V279.3H347ZM347.5 224.4H349V292.8H347.5ZM349 237.9H349.5V306.2H349ZM349.5 237.9H350V319.7H349.5ZM350 211.0H351V319.7H350ZM351 237.9H352V319.7H351ZM352 237.9H353V292.8H352ZM353 237.9H353.5V306.2H353ZM353.5 237.9H354.5V292.8H353.5ZM354.5 237.9H355V306.2H354.5ZM355 237.9H355.5V319.7H355ZM355.5 224.4H356V319.7H355.5ZM356 211.0H357V292.8H356ZM357 224.4H357.5V292.8H357ZM357.5 224.4H359V306.2H357.5ZM359 211.0H359.5V306.2H359ZM359.5 211.0H360V319.7H359.5ZM360 224.4H363V306.2H360ZM363 224.4H364V319.7H363ZM364 211.0H365V306.2H364ZM365 237.9H365.5V306.2H365ZM365.5 224.4H366V306.2H365.5ZM366 224.4H367V333.1H366ZM367 157.1H368V306.2H367ZM368 184.0H369V319.7H368ZM369 211.0H370V306.2H369ZM370 251.4H370.5V292.8H370ZM370.5 237.9H371V292.8H370.5ZM371 237.9H372V333.1H371ZM372 211.0H373V279.3H372ZM373 184.0H373.5V346.6H373ZM373.5 184.0H374V333.1H373.5ZM374 237.9H374.5V292.8H374ZM374.5 224.4H375V292.8H374.5ZM375 224.4H376V306.2H375ZM376 237.9H376.5V292.8H376ZM376.5 237.9H379V279.3H376.5ZM379 224.4H379.5V333.1H379ZM379.5 237.9H380V333.1H379.5ZM380 237.9H382V292.8H380ZM382 197.5H383V319.7H382ZM383 237.9H384.5V292.8H383ZM384.5 237.9H385V279.3H384.5ZM385 157.1H386V306.2H385ZM386 224.4H387V279.3H386ZM387 184.0H387.5V265.8H387ZM387.5 184.0H388V279.3H387.5ZM388 197.5H388.5V306.2H388ZM388.5 197.5H389V319.7H388.5ZM389 237.9H390V292.8H389ZM390 237.9H391V346.6H390ZM391 197.5H392V319.7H391ZM392 237.9H393V306.2H392ZM393 197.5H394V333.1H393ZM394 237.9H395V319.7H394ZM395 197.5H396V292.8H395ZM396 237.9H397V319.7H396ZM397 237.9H398V292.8H397ZM398 211.0H400V319.7H398ZM400 157.1H401V292.8H400ZM401 237.9H402V319.7H401ZM402 237.9H402.5V333.1H402ZM402.5 251.4H403V333.1H402.5ZM403 251.4H403.5V306.2H403ZM403.5 237.9H404V306.2H403.5ZM404 237.9H405V346.6H404ZM405 237.9H405.5V319.7H405ZM405.5 251.4H406.5V319.7H405.5ZM406.5 251.4H408V306.2H406.5ZM408 251.4H409V319.7H408ZM409 251.4H411.5V306.2H409ZM411.5 264.8H414.5V319.7H411.5ZM414.5 251.4H415V319.7H414.5ZM415 237.9H416V333.1H415ZM416 251.4H416.5V319.7H416ZM416.5 264.8H417V292.8H416.5ZM417 264.8H418V306.2H417ZM418 237.9H419V346.6H418ZM419 251.4H419.5V319.7H419ZM419.5 251.4H421V333.1H419.5ZM421 237.9H421.5V306.2H421ZM421.5 237.9H422.5V319.7H421.5ZM422.5 237.9H423V306.2H422.5ZM423 251.4H423.5V319.7H423ZM423.5 237.9H424V319.7H423.5ZM424 224.4H424.5V319.7H424ZM424.5 237.9H425V319.7H424.5ZM425 251.4H425.5V319.7H425ZM425.5 251.4H426V333.1H425.5ZM426 251.4H427V306.2H426ZM427 224.4H428V306.2H427ZM428 237.9H429V333.1H428ZM429 224.4H430V333.1H429ZM430 237.9H431V346.6H430ZM431 237.9H431.5V319.7H431ZM431.5 237.9H432V306.2H431.5ZM432 251.4H433V306.2H432ZM433 237.9H433.5V306.2H433ZM433.5 224.4H434V306.2H433.5ZM434 251.4H434.5V346.6H434ZM434.5 237.9H435V346.6H434.5ZM435 251.4H435.5V306.2H435ZM435.5 237.9H436V306.2H435.5ZM436 237.9H436.5V319.7H436ZM436.5 251.4H437V319.7H436.5ZM437 237.9H438V319.7H437ZM438 237.9H439V306.2H438ZM439 251.4H440V306.2H439ZM440 237.9H440.5V306.2H440ZM440.5 237.9H441V319.7H440.5ZM441 224.4H442V319.7H441ZM442 237.9H443V319.7H442ZM443 224.4H443.5V319.7H443ZM443.5 224.4H444V306.2H443.5ZM444 237.9H445V306.2H444ZM445 224.4H445.5V319.7H445ZM445.5 224.4H446V333.1H445.5ZM446 251.4H446.5V319.7H446ZM446.5 264.8H447V319.7H446.5ZM447 251.4H448V319.7H447ZM448 237.9H448.5V319.7H448ZM448.5 237.9H449V306.2H448.5ZM449 237.9H449.5V292.8H449ZM449.5 237.9H451V306.2H449.5ZM451 237.9H452V333.1H451ZM452 237.9H453V306.2H452ZM453 251.4H454V306.2H453ZM454 251.4H455V346.6H454ZM455 224.4H456V306.2H455ZM456 237.9H457V346.6H456ZM457 237.9H458V306.2H457ZM458 237.9H458.5V333.1H458ZM458.5 251.4H459V333.1H458.5ZM459 224.4H459.5V306.2H459ZM459.5 224.4H460V319.7H459.5ZM460 237.9H461V319.7H460ZM461 251.4H462V319.7H461ZM462 251.4H464V333.1H462ZM464 224.4H465V333.1H464ZM465 237.9H466V333.1H465ZM466 237.9H466.5V292.8H466ZM466.5 224.4H467V292.8H466.5ZM467 211.0H467.5V292.8H467ZM467.5 224.4H469V292.8H467.5ZM469 237.9H469.5V279.3H469ZM469.5 211.0H470V252.4H469.5ZM470 170.6H473V319.7H470ZM473 224.4H473.5V279.3H473ZM473.5 237.9H474V279.3H473.5ZM474 224.4H474.5V252.4H474ZM474.5 211.0H475V252.4H474.5ZM475 224.4H475.5V252.4H475ZM475.5 224.4H476V265.8H475.5ZM476 157.1H479V306.2H476ZM479 197.5H479.5V252.4H479ZM479.5 197.5H480V265.8H479.5ZM480 224.4H480.5V252.4H480ZM480.5 224.4H481V265.8H480.5ZM481 157.1H484V319.7H481ZM484 237.9H485V279.3H484ZM485 237.9H486V252.4H485ZM486 224.4H486.5V252.4H486ZM486.5 237.9H487V265.8H486.5ZM487 157.1H490V333.1H487ZM490 237.9H490.5V252.4H490ZM490.5 224.4H491V252.4H490.5ZM491 211.0H491.5V252.4H491ZM491.5 237.9H492V265.8H491.5ZM492 211.0H493V252.4H492ZM493 170.6H496V333.1H493ZM496 224.4H496.5V265.8H496ZM496.5 237.9H497V252.4H496.5ZM497 224.4H497.5V252.4H497ZM497.5 237.9H498V252.4H497.5ZM498 224.4H498.5V265.8H498ZM498.5 211.0H499V252.4H498.5ZM499 157.1H502V333.1H499ZM502 237.9H503V292.8H502ZM503 224.4H503.5V252.4H503ZM503.5 224.4H504V265.8H503.5ZM504 237.9H504.5V265.8H504ZM504.5 224.4H505V252.4H504.5ZM505 211.0H508V292.8H505ZM508 224.4H508.5V252.4H508ZM508.5 237.9H509V265.8H508.5ZM509 237.9H509.5V252.4H509ZM509.5 224.4H510V265.8H509.5ZM510 184.0H511V265.8H510ZM511 211.0H512V265.8H511ZM512 184.0H512.5V265.8H512ZM512.5 184.0H513V279.3H512.5ZM513 211.0H513.5V279.3H513ZM513.5 211.0H515V265.8H513.5ZM515 197.5H516V279.3H515ZM516 197.5H517V265.8H516ZM517 184.0H518V265.8H517ZM518 211.0H518.5V265.8H518ZM518.5 197.5H519V265.8H518.5ZM519 197.5H520V279.3H519ZM520 197.5H521V265.8H520ZM521 211.0H521.5V265.8H521ZM521.5 197.5H522V265.8H521.5ZM522 184.0H523V265.8H522ZM523 197.5H524V265.8H523ZM524 211.0H524.5V238.9H524ZM524.5 197.5H525V238.9H524.5ZM525 197.5H526V279.3H525ZM526 197.5H527V265.8H526ZM527 184.0H527.5V252.4H527ZM527.5 184.0H528V238.9H527.5ZM528 197.5H529V279.3H528ZM529 184.0H531V238.9H529ZM531 184.0H532V265.8H531ZM532 211.0H533V252.4H532ZM533 197.5H534V265.8H533ZM534 184.0H535V265.8H534ZM535 184.0H536V252.4H535ZM536 197.5H536.5V265.8H536ZM536.5 211.0H537V279.3H536.5ZM537 184.0H538V252.4H537ZM538 197.5H539V252.4H538ZM539 197.5H540V265.8H539ZM540 197.5H541V252.4H540ZM541 211.0H541.5V265.8H541ZM541.5 197.5H542V265.8H541.5ZM542 184.0H542.5V238.9H542ZM542.5 184.0H543V252.4H542.5ZM543 184.0H544V265.8H543ZM544 184.0H545V238.9H544ZM545 184.0H547V252.4H545ZM547 197.5H547.5V252.4H547ZM547.5 197.5H548.5V238.9H547.5ZM548.5 211.0H549V238.9H548.5ZM549 197.5H550V265.8H549ZM550 184.0H551V238.9H550ZM551 184.0H551.5V252.4H551ZM551.5 184.0H552V238.9H551.5ZM552 170.6H553V238.9H552ZM553 184.0H554V238.9H553ZM554 197.5H554.5V238.9H554ZM554.5 184.0H555.5V252.4H554.5ZM555.5 197.5H556V252.4H555.5ZM556 184.0H558V252.4H556ZM558 170.6H559V252.4H558ZM559 184.0H559.5V252.4H559ZM559.5 197.5H560V252.4H559.5ZM560 170.6H561V252.4H560ZM561 197.5H562.5V252.4H561ZM562.5 184.0H563V252.4H562.5ZM563 170.6H563.5V252.4H563ZM563.5 170.6H564V238.9H563.5ZM564 184.0H564.5V238.9H564ZM564.5 197.5H565V238.9H564.5ZM565 170.6H566V238.9H565ZM566 184.0H568V238.9H566ZM568 170.6H569V238.9H568ZM569 184.0H569.5V252.4H569ZM569.5 197.5H570V252.4H569.5ZM570 184.0H571V252.4H570ZM571 157.1H572V238.9H571ZM572 184.0H572.5V238.9H572ZM572.5 170.6H573V238.9H572.5ZM573 184.0H574V252.4H573ZM574 184.0H575V238.9H574ZM575 197.5H575.5V238.9H575ZM575.5 184.0H576V238.9H575.5ZM576 184.0H577V225.4H576ZM577 170.6H578V252.4H577ZM578 184.0H578.5V225.4H578ZM578.5 197.5H579V238.9H578.5ZM579 184.0H579.5V252.4H579ZM579.5 197.5H580V252.4H579.5ZM580 170.6H581V238.9H580ZM581 170.6H582V252.4H581ZM582 184.0H583V238.9H582ZM583 170.6H583.5V238.9H583ZM583.5 170.6H584.5V225.4H583.5ZM584.5 170.6H585V238.9H584.5ZM585 157.1H586V238.9H585ZM586 170.6H587V225.4H586ZM587 157.1H587.5V225.4H587ZM587.5 157.1H588V212.0H587.5ZM588 157.1H589V225.4H588ZM589 170.6H589.5V252.4H589ZM589.5 170.6H590V238.9H589.5ZM590 157.1H591V225.4H590ZM591 157.1H593V238.9H591ZM593 143.6H594V252.4H593ZM594 184.0H594.5V225.4H594ZM594.5 170.6H595V225.4H594.5ZM595 143.6H595.5V212.0H595ZM595.5 143.6H596V225.4H595.5ZM596 157.1H597V225.4H596ZM597 143.6H598V238.9H597ZM598 157.1H599V225.4H598ZM599 143.6H600V238.9H599ZM600 143.6H601V225.4H600ZM601 170.6H602V238.9H601ZM602 157.1H602.5V212.0H602ZM602.5 157.1H603V225.4H602.5ZM603 143.6H604V225.4H603ZM604 170.6H605V225.4H604ZM605 157.1H606V225.4H605ZM606 143.6H607V238.9H606ZM607 143.6H607.5V212.0H607ZM607.5 143.6H608V198.5H607.5ZM608 157.1H608.5V252.4H608ZM608.5 157.1H609V238.9H608.5ZM609 143.6H610V212.0H609ZM610 170.6H611V212.0H610ZM611 157.1H611.5V212.0H611ZM611.5 157.1H613V225.4H611.5ZM613 143.6H614V238.9H613ZM614 170.6H616V225.4H614ZM616 143.6H616.5V225.4H616ZM616.5 157.1H617V225.4H616.5ZM617 157.1H618V238.9H617ZM618 157.1H619V212.0H618ZM619 170.6H620V212.0H619ZM620 143.6H620.5V212.0H620ZM620.5 143.6H621V225.4H620.5ZM621 170.6H622V238.9H621ZM622 170.6H623V212.0H622ZM623 157.1H623.5V212.0H623ZM623.5 157.1H624V225.4H623.5ZM624 170.6H626.5V225.4H624ZM626.5 170.6H627V212.0H626.5ZM627 170.6H628V225.4H627ZM628 157.1H629V238.9H628ZM629 170.6H629.5V212.0H629ZM629.5 170.6H630V225.4H629.5ZM630 157.1H631V212.0H630ZM631 170.6H632.5V212.0H631ZM632.5 184.0H633V212.0H632.5ZM633 143.6H634V225.4H633ZM634 170.6H635V225.4H634ZM635 157.1H636V252.4H635ZM636 170.6H637V238.9H636ZM637 143.6H638V238.9H637ZM638 143.6H639V225.4H638ZM639 157.1H641V238.9H639ZM641 157.1H643.5V225.4H641ZM643.5 157.1H644V212.0H643.5ZM644 157.1H646V225.4H644ZM646 143.6H646.5V212.0H646ZM646.5 157.1H647V225.4H646.5ZM647 143.6H648V225.4H647ZM648 143.6H649V238.9H648ZM649 157.1H650V212.0H649ZM650 157.1H650.5V225.4H650ZM650.5 143.6H651V225.4H650.5ZM651 170.6H652V238.9H651ZM652 130.2H653V225.4H652ZM653 170.6H654V225.4H653ZM654 157.1H656V225.4H654ZM656 143.6H657V252.4H656ZM657 157.1H658V279.3H657ZM658 157.1H659V212.0H658Z" fill="#e64c0c"/>
<line x1="142.3" y1="9" x2="141.7" y2="318.6" stroke="#000" stroke-width="2" stroke-dasharray="4.6 4.97" stroke-dashoffset="8.77"/>
<line x1="180.5" y1="9" x2="178.6" y2="321" stroke="#000" stroke-width="2" stroke-dasharray="4.6 4.97" stroke-dashoffset="7.97"/>
<line x1="254.8" y1="9" x2="255.7" y2="388" stroke="#000" stroke-width="2" stroke-dasharray="4.6 4.97" stroke-dashoffset="7.87"/>
<line x1="293.3" y1="9" x2="292.3" y2="388" stroke="#000" stroke-width="2" stroke-dasharray="4.6 4.97" stroke-dashoffset="8.77"/>
<line x1="364.5" y1="9" x2="364.9" y2="388" stroke="#000" stroke-width="2" stroke-dasharray="4.6 4.97" stroke-dashoffset="8.77"/>
<line x1="400.9" y1="9" x2="400.8" y2="388" stroke="#000" stroke-width="2" stroke-dasharray="4.6 4.97" stroke-dashoffset="8.77"/>
<line x1="466.2" y1="9" x2="466.1" y2="388" stroke="#000" stroke-width="2" stroke-dasharray="4.6 4.97" stroke-dashoffset="7.87"/>
<line x1="509.9" y1="8" x2="508.7" y2="388" stroke="#000" stroke-width="2" stroke-dasharray="4.6 4.97" stroke-dashoffset="9.27"/>
<rect x="66.5" y="9.5" width="593.0" height="377.0" fill="none" stroke="#383838" stroke-width="1.35"/>
<path d="M66.5 386.5V380.0M66.5 9.5V16.0M185.1 386.5V380.0M185.1 9.5V16.0M303.7 386.5V380.0M303.7 9.5V16.0M422.3 386.5V380.0M422.3 9.5V16.0M540.9 386.5V380.0M540.9 9.5V16.0M659.5 386.5V380.0M659.5 9.5V16.0M66.5 9.5H73.0M659.5 9.5H653.0M66.5 63.4H73.0M659.5 63.4H653.0M66.5 117.2H73.0M659.5 117.2H653.0M66.5 171.1H73.0M659.5 171.1H653.0M66.5 224.9H73.0M659.5 224.9H653.0M66.5 278.8H73.0M659.5 278.8H653.0M66.5 332.6H73.0M659.5 332.6H653.0M66.5 386.5H73.0M659.5 386.5H653.0" stroke="#2a2a2a" stroke-width="1" fill="none"/>
<rect x="71.8" y="328.2" width="173.6" height="49" fill="#fff" stroke="#3a3a3a" stroke-width="1.4"/>
<line x1="74" y1="340.5" x2="92.5" y2="340.5" stroke="#6a6664" stroke-width="1.3"/>
<line x1="74" y1="364" x2="92.5" y2="364" stroke="#e64c0c" stroke-width="1.3"/>
<g font-family="Liberation Sans, sans-serif" fill="#111">
<text transform="translate(93.6 348) scale(0.72 1)" font-size="19.5" letter-spacing="3.18" >multipath - free</text>
<text transform="translate(93.2 371.3) scale(0.72 1)" font-size="19.5" letter-spacing="3.43" >ground multipath</text>
<text transform="translate(36.9 17.1) scale(0.83 1)" font-size="19.7" letter-spacing="3.0" >40</text>
<text transform="translate(36.9 70.95714285714286) scale(0.83 1)" font-size="19.7" letter-spacing="3.0" >39</text>
<text transform="translate(36.9 124.8142857142857) scale(0.83 1)" font-size="19.7" letter-spacing="3.0" >38</text>
<text transform="translate(36.9 178.67142857142858) scale(0.83 1)" font-size="19.7" letter-spacing="3.0" >37</text>
<text transform="translate(36.9 232.5285714285714) scale(0.83 1)" font-size="19.7" letter-spacing="3.0" >36</text>
<text transform="translate(36.9 286.3857142857143) scale(0.83 1)" font-size="19.7" letter-spacing="3.0" >35</text>
<text transform="translate(36.9 340.2428571428572) scale(0.83 1)" font-size="19.7" letter-spacing="3.0" >34</text>
<text transform="translate(36.9 394.1) scale(0.83 1)" font-size="19.7" letter-spacing="3.0" >33</text>
<text transform="translate(36.7 412.3) scale(0.83 1)" font-size="19.5" letter-spacing="3.1" >43600</text>
<text transform="translate(155.1 412.3) scale(0.83 1)" font-size="19.5" letter-spacing="3.1" >43800</text>
<text transform="translate(273.8 412.3) scale(0.83 1)" font-size="19.5" letter-spacing="3.1" >44000</text>
<text transform="translate(392.4 412.3) scale(0.83 1)" font-size="19.5" letter-spacing="3.1" >44200</text>
<text transform="translate(511.70000000000005 412.3) scale(0.83 1)" font-size="19.5" letter-spacing="3.1" >44400</text>
<text transform="translate(629.8 412.3) scale(0.83 1)" font-size="19.5" letter-spacing="3.1" >44600</text>
<text transform="translate(155.5 35.3) scale(0.8 1)" font-size="19.5" letter-spacing="0" >a</text>
<text transform="translate(269.2 35.3) scale(0.8 1)" font-size="19.5" letter-spacing="0" >b</text>
<text transform="translate(373.8 35.3) scale(0.8 1)" font-size="19.5" letter-spacing="0" >c</text>
<text transform="translate(483.2 35.3) scale(0.8 1)" font-size="19.5" letter-spacing="0" >d</text>
<text transform="translate(289 441.7) scale(0.79 1)" font-size="26.5" letter-spacing="3.6" >Time of day (s)</text>
<text transform="translate(22.9 275.6) rotate(-90) scale(0.76 1)" font-size="26" letter-spacing="5.2">SNR (dB-Hz)</text>
</g>
</svg></body></html>
